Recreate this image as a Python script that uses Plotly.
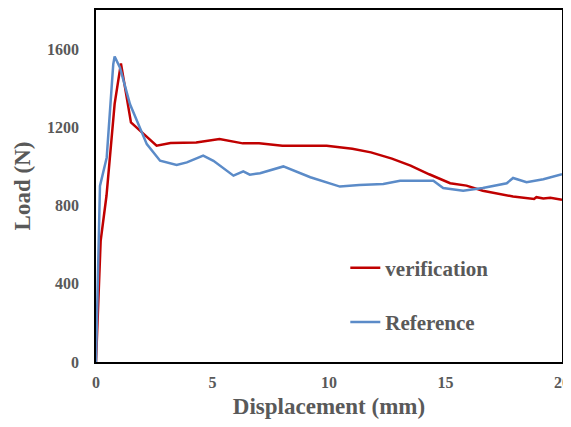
"""Load-displacement curves: verification vs reference."""

import plotly.graph_objects as go

# Verification curve
verif_x = [0, 0.2, 0.45, 0.8, 1.07, 1.5, 2.6, 3.2, 4.3, 5.3, 6.3, 7.0, 8.0,
           9.9, 11.0, 11.8, 12.7, 13.5, 14.3, 15.2, 15.9, 16.6, 17.9, 18.8,
           18.9, 19.2, 19.5, 19.8, 20.0]
verif_y = [0, 620, 850, 1320, 1527, 1225, 1106, 1120, 1122, 1140, 1118, 1118,
           1106, 1106, 1090, 1072, 1040, 1004, 960, 914, 902, 876, 846, 834,
           843, 836, 840, 832, 830]

# Reference curve
ref_x = [0, 0.17, 0.46, 0.74, 0.8, 1.03, 1.46, 2.18, 2.75, 3.46, 3.9, 4.6,
         5.04, 5.9, 6.32, 6.6, 7.04, 8.04, 9.2, 10.47, 11.3, 12.33, 13.05,
         14.48, 14.9, 15.76, 16.6, 17.63, 17.9, 18.48, 19.2, 19.77, 20.0]
ref_y = [0, 900, 1046, 1522, 1562, 1505, 1318, 1114, 1029, 1007, 1021, 1055,
         1029, 953, 975, 958, 965, 1000, 945, 897, 905, 910, 927, 927, 890,
         876, 890, 914, 941, 919, 935, 953, 960]

FONT = "Liberation Serif"
GREY = "#595959"

fig = go.Figure()

fig.add_trace(
    go.Scatter(
        x=verif_x,
        y=verif_y,
        mode="lines",
        name="<b>verification</b>",
        legendgroup="a",
        line={"color": "#C00000", "width": 2.5},
    ),
)

fig.add_trace(
    go.Scatter(
        x=ref_x,
        y=ref_y,
        mode="lines",
        name="<b>Reference</b>",
        legendgroup="b",
        line={"color": "#5B8BC8", "width": 2.5},
    ),
)

# the page body keeps its 8px default margin, so the figure is sized to fit
# inside the window without scrollbars
fig.update_layout(
    width=563,
    height=411,
    margin={"l": 88, "r": 9, "t": 2, "b": 57},
    paper_bgcolor="white",
    plot_bgcolor="white",
    font={"family": FONT, "color": GREY},
    showlegend=True,
    legend={
        "x": 0.535,
        "y": 0.19,
        "xanchor": "left",
        "yanchor": "middle",
        "font": {"family": FONT, "size": 21, "color": GREY},
        "traceorder": "grouped",
        "tracegroupgap": 24,
        "bgcolor": "rgba(0,0,0,0)",
    },
    xaxis={
        "range": [0, 20],
        "tickvals": [0, 5, 10, 15, 20],
        "ticktext": ["<b>0</b>", "<b>5</b>", "<b>10</b>", "<b>15</b>", "<b>20</b>"],
        "showline": True,
        "linecolor": "black",
        "linewidth": 1.5,
        "mirror": True,
        "showgrid": False,
        "zeroline": False,
        "ticks": "",
        "automargin": False,
        "ticklabelstandoff": 5,
        "tickfont": {"size": 16, "color": GREY},
        "title": {
            "text": "<b>Displacement (mm)</b>",
            "font": {"size": 23, "color": GREY},
            "standoff": 12,
        },
    },
    yaxis={
        "range": [0, 1800],
        "tickvals": [0, 400, 800, 1200, 1600],
        "ticktext": ["<b>0</b>", "<b>400</b>", "<b>800</b>", "<b>1200</b>", "<b>1600</b>"],
        "showline": True,
        "linecolor": "black",
        "linewidth": 1.5,
        "mirror": True,
        "showgrid": False,
        "zeroline": False,
        "ticks": "",
        "automargin": False,
        "ticklabelstandoff": 12,
        "tickfont": {"size": 16, "color": GREY},
        "title": {
            "text": "<b>Load (N)</b>",
            "font": {"size": 23, "color": GREY},
            "standoff": 10,
        },
    },
)

fig.write_html("out.html")
